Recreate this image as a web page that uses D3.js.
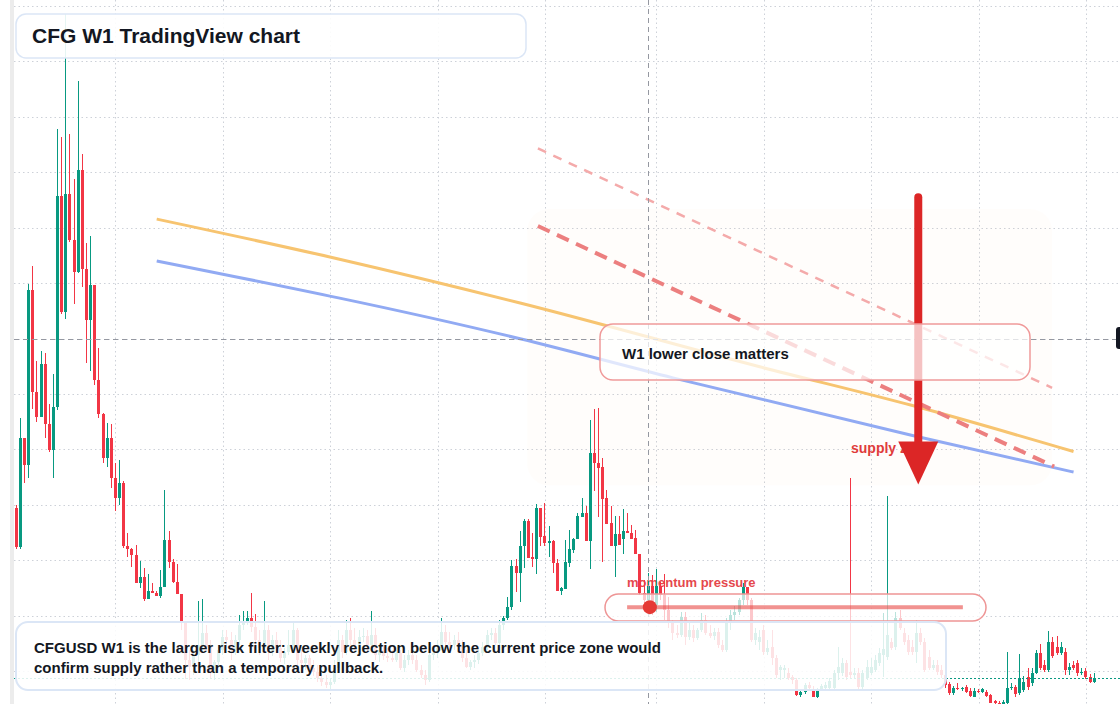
<!DOCTYPE html>
<html>
<head>
<meta charset="utf-8">
<script src="https://cdn.jsdelivr.net/npm/d3@7"></script>
<style>
html, body { margin: 0; padding: 0; background: #fff; }
svg { display: block; font-family: "Liberation Sans", Arial, sans-serif; }
</style>
</head>
<body>
<div id="chart"></div>
<script>
// weekly CFGUSD candles (oldest first)
const opens = [
  .790, .646, 1.042, .942, 1.575, 1.208, 1.118, 1.309, 1.093, .999,
  1.154, 1.914, 1.496, 1.921, 1.755, 1.640, 2.007, 1.651, 1.467, 1.593,
  1.251, 1.129, .967, 1.042, .898, .823, .880, .650, .639, .618,
  .517, .538, .459, .488, .481, .470, .502, .672, .592, .520,
  .477, .376, .240, .214, .258, .294, .337, .286, .193, .232,
  .276, .322, .312, .276, .312, .366, .380, .391, .358, .312,
  .283, .348, .268, .312, .283, .247, .268, .294, .348, .240,
  .229, .247, .211, .196, .175, .160, .150, .160, .211, .312,
  .268, .348, .312, .294, .322, .326, .294, .330, .258, .276,
  .254, .247, .240, .265, .211, .240, .258, .240, .204, .186,
  .168, .258, .265, .283, .340, .304, .294, .312, .290, .247,
  .214, .232, .240, .265, .286, .330, .337, .301, .366, .391,
  .430, .578, .553, .650, .740, .610, .603, .790, .686, .661,
  .668, .589, .488, .495, .589, .636, .675, .754, .769, .668,
  .985, .952, .938, .823, .733, .650, .693, .675, .704, .697,
  .679, .621, .481, .456, .506, .438, .506, .474, .420, .373,
  .337, .330, .394, .322, .348, .319, .348, .384, .337, .326,
  .340, .294, .276, .373, .402, .412, .456, .502, .456, .312,
  .304, .348, .268, .286, .247, .204, .204, .193, .178, .168,
  .114, .124, .150, .135, .106, .135, .139, .139, .139, .193,
  .193, .229, .196, .186, .193, .142, .175, .193, .204, .229,
  .258, .250, .304, .286, .391, .337, .312, .286, .268, .337,
  .304, .250, .211, .222, .204, .186, .153, .121, .139, .135,
  .142, .128, .106, .128, .124, .124, .114, .092, .085, .081,
  .085, .139, .142, .121, .132, .178, .157, .193, .265, .222,
  .204, .304, .286, .265, .268, .204, .222, .229, .193, .200,
  .178, .160
];
const highs = [
  .798, 1.114, 1.042, 1.597, 1.662, 1.320, 1.356, 1.348, 1.165, 1.273,
  2.155, 2.126, 2.572, 2.137, 1.975, 2.328, 2.065, 1.744, 1.770, 1.593,
  1.366, 1.132, 1.096, 1.093, .949, .963, .884, .697, .643, .654,
  .596, .571, .549, .517, .488, .564, .852, .704, .603, .585,
  .477, .376, .276, .276, .452, .459, .366, .312, .240, .294,
  .348, .348, .340, .330, .402, .416, .416, .481, .405, .348,
  .452, .366, .330, .340, .312, .283, .348, .376, .355, .276,
  .258, .258, .240, .222, .196, .186, .175, .240, .348, .330,
  .384, .391, .355, .348, .355, .348, .416, .355, .294, .294,
  .283, .276, .276, .276, .258, .276, .276, .258, .222, .204,
  .276, .276, .312, .391, .366, .340, .330, .340, .312, .276,
  .240, .258, .276, .304, .348, .355, .355, .384, .398, .466,
  .600, .603, .704, .747, .747, .697, .801, .790, .808, .722,
  .672, .603, .502, .672, .708, .679, .772, .823, .794, 1.107,
  1.147, 1.150, .970, .852, .794, .758, .758, .783, .769, .726,
  .708, .621, .528, .553, .546, .567, .520, .549, .466, .384,
  .366, .412, .412, .376, .366, .355, .409, .402, .366, .355,
  .355, .312, .391, .420, .434, .463, .517, .502, .463, .355,
  .348, .366, .312, .348, .258, .222, .222, .211, .186, .175,
  .132, .157, .160, .146, .139, .153, .160, .175, .204, .286,
  .247, .240, .898, .211, .211, .204, .240, .247, .258, .283,
  .409, .830, .319, .412, .420, .355, .330, .312, .384, .355,
  .319, .276, .240, .240, .222, .207, .160, .146, .157, .142,
  .150, .139, .139, .135, .139, .132, .117, .096, .092, .096,
  .268, .157, .150, .261, .182, .211, .211, .276, .297, .240,
  .344, .322, .326, .304, .283, .229, .236, .240, .211, .211,
  .189, .193
];
const lows = [
  .639, .639, .877, .895, 1.147, 1.100, 1.118, 1.042, .992, .898,
  1.143, 1.489, 1.471, 1.748, 1.525, 1.636, 1.586, 1.312, 1.284, 1.233,
  1.114, .952, .938, .859, .776, .798, .643, .610, .574, .517,
  .499, .452, .459, .481, .470, .463, .502, .571, .517, .477,
  .348, .171, .168, .186, .232, .268, .276, .175, .168, .211,
  .258, .294, .240, .258, .294, .348, .366, .340, .294, .258,
  .276, .240, .254, .268, .232, .225, .258, .276, .222, .211,
  .204, .189, .182, .160, .146, .139, .132, .153, .204, .247,
  .258, .294, .276, .276, .304, .268, .283, .240, .232, .240,
  .232, .232, .232, .204, .196, .222, .225, .196, .175, .150,
  .160, .240, .247, .276, .294, .276, .276, .276, .232, .211,
  .204, .211, .225, .254, .276, .312, .294, .294, .348, .384,
  .420, .484, .448, .571, .607, .574, .549, .650, .650, .610,
  .553, .488, .474, .495, .574, .625, .675, .754, .668, .567,
  .848, .754, .592, .729, .650, .538, .654, .621, .697, .675,
  .621, .474, .412, .438, .402, .412, .456, .384, .355, .312,
  .319, .322, .294, .312, .304, .312, .340, .330, .319, .312,
  .283, .268, .268, .348, .384, .402, .438, .438, .304, .294,
  .276, .258, .258, .222, .175, .168, .175, .168, .153, .110,
  .106, .117, .132, .106, .103, .132, .132, .132, .132, .168,
  .182, .168, .175, .175, .132, .132, .168, .186, .196, .218,
  .178, .240, .276, .276, .348, .294, .258, .258, .229, .294,
  .196, .204, .204, .186, .175, .139, .114, .114, .132, .128,
  .121, .106, .106, .121, .121, .106, .085, .081, .078, .078,
  .081, .132, .106, .114, .124, .132, .146, .189, .204, .196,
  .196, .247, .258, .258, .186, .186, .204, .182, .186, .171,
  .157, .157
];
const closes = [
  .646, 1.042, .942, 1.575, 1.208, 1.118, 1.309, 1.093, .999, 1.154,
  1.914, 1.496, 1.921, 1.755, 1.640, 2.007, 1.651, 1.467, 1.593, 1.251,
  1.129, .967, 1.042, .898, .823, .880, .650, .639, .618, .517,
  .538, .459, .488, .481, .470, .502, .672, .592, .520, .477,
  .376, .240, .214, .258, .294, .337, .286, .193, .232, .276,
  .322, .312, .276, .312, .366, .380, .391, .358, .312, .283,
  .348, .268, .312, .283, .247, .268, .294, .348, .240, .229,
  .247, .211, .196, .175, .160, .150, .160, .211, .312, .268,
  .348, .312, .294, .322, .326, .294, .330, .258, .276, .254,
  .247, .240, .265, .211, .240, .258, .240, .204, .186, .168,
  .258, .265, .283, .340, .304, .294, .312, .290, .247, .214,
  .232, .240, .265, .286, .330, .337, .301, .366, .391, .430,
  .578, .553, .650, .740, .607, .603, .790, .682, .661, .668,
  .589, .488, .499, .592, .639, .675, .758, .769, .668, .985,
  .949, .934, .819, .729, .650, .693, .654, .704, .697, .675,
  .621, .481, .456, .506, .438, .506, .474, .420, .373, .337,
  .330, .394, .322, .348, .319, .348, .384, .337, .326, .340,
  .294, .276, .373, .402, .412, .456, .502, .456, .312, .337,
  .322, .268, .283, .247, .186, .214, .211, .175, .168, .114,
  .124, .150, .139, .106, .135, .146, .150, .164, .193, .214,
  .229, .178, .186, .193, .142, .193, .214, .214, .240, .265,
  .279, .330, .283, .391, .355, .304, .268, .268, .337, .304,
  .204, .211, .222, .196, .186, .150, .121, .139, .135, .139,
  .124, .110, .128, .124, .135, .110, .085, .085, .081, .088,
  .139, .142, .117, .175, .160, .142, .193, .265, .211, .204,
  .304, .254, .265, .286, .204, .214, .211, .193, .196, .178,
  .160, .175
];

// price grid and half-year time grid (bar index)
const gridPrices = [0.2, 0.4, 0.6, 0.8, 1.0, 1.2, 1.4, 1.6, 1.8, 2.0, 2.2, 2.4, 2.6];
const gridBars = [24, 50, 76, 102, 128, 155, 181, 207, 233, 259];

// two smoothed averages, sampled at a few bars
const maBars = [34, 78, 122, 180, 217, 256];
const maFast = [1.831, 1.687, 1.528, 1.298, 1.158, 0.992];
const maSlowBars = [34, 122, 159, 217, 256];
const maSlow = [1.680, 1.399, 1.258, 1.050, 0.918];

// drawn annotations (bar index, price)
const zoneBars = [123.7, 250.8], zonePrices = [1.867, 0.870];
const trendUpperBars = [126.3, 250.8], trendUpper = [2.086, 1.222];
const trendLowerBars = [126.3, 251.3], trendLower = [1.806, 0.938];
const arrowBar = 218.4, arrowPrices = [1.91, 1.028, 0.873];
const pressureBars = [147.9, 229.2, 153.4], pressurePrice = 0.4304;
const crossBar = 153, crossPrice = 1.4;

const W = 1120, H = 704;
const teal = "#089981", red = "#f23645";

const svg = d3.select("#chart").append("svg")
    .attr("width", W).attr("height", H);
svg.append("rect").attr("width", W).attr("height", H).attr("fill", "#fff");

const x = d3.scaleLinear().domain([0, 261]).range([16.3, 1094.2]);
const y = d3.scaleLinear().domain([0.2, 2.6]).range([671, 6]);
const px = v => Math.round(v) + 0.5;

// left scale strip
svg.append("rect").attr("x", 10).attr("y", 0).attr("width", 4).attr("height", H).attr("fill", "#ececec");

// grid
svg.append("g").selectAll("line").data(gridPrices).enter().append("line")
    .attr("x1", 14).attr("x2", W)
    .attr("y1", d => px(y(d))).attr("y2", d => px(y(d)))
    .attr("stroke", "#cdd1d8").attr("stroke-dasharray", "1.5,3");
svg.append("g").selectAll("line").data(gridBars).enter().append("line")
    .attr("y1", 0).attr("y2", H)
    .attr("x1", d => px(x(d))).attr("x2", d => px(x(d)))
    .attr("stroke", "#cdd1d8").attr("stroke-dasharray", "1.5,3");

// supply zone shading
svg.append("rect")
    .attr("x", x(zoneBars[0])).attr("y", y(zonePrices[0]))
    .attr("width", x(zoneBars[1]) - x(zoneBars[0]))
    .attr("height", y(zonePrices[1]) - y(zonePrices[0]))
    .attr("rx", 22)
    .attr("fill", "rgba(240,190,140,0.03)");

// averages
const line = d3.line().curve(d3.curveMonotoneX);
svg.append("path")
    .attr("d", line(maBars.map((b, i) => [x(b), y(maFast[i])])))
    .attr("fill", "none").attr("stroke", "#f7c470").attr("stroke-width", 3);
svg.append("path")
    .attr("d", line(maSlowBars.map((b, i) => [x(b), y(maSlow[i])])))
    .attr("fill", "none").attr("stroke", "#91aaf3").attr("stroke-width", 3);

// trend lines
svg.append("line")
    .attr("x1", x(trendUpperBars[0])).attr("y1", y(trendUpper[0]))
    .attr("x2", x(trendUpperBars[1])).attr("y2", y(trendUpper[1]))
    .attr("stroke", "#f4aaaa").attr("stroke-width", 2.5).attr("stroke-dasharray", "9,8");
svg.append("line")
    .attr("x1", x(trendLowerBars[0])).attr("y1", y(trendLower[0]))
    .attr("x2", x(trendLowerBars[1])).attr("y2", y(trendLower[1]))
    .attr("stroke", "#ec7f7f").attr("stroke-width", 4).attr("stroke-dasharray", "13,8");

// label sits under the candles
svg.append("text").attr("x", 627).attr("y", 587)
    .attr("font-size", 13).attr("font-weight", "bold").attr("fill", "#e5484d")
    .text("momentum pressure");

// candles
const bars = d3.range(closes.length);
const cg = svg.append("g");
bars.forEach(i => {
  const o = opens[i], c = closes[i];
  const col = c >= o ? teal : red;
  const left = Math.round(x(i) - 1.5);
  const hi = Math.round(y(Math.max(highs[i], o, c)));
  const lo = Math.round(y(Math.min(lows[i], o, c)));
  cg.append("rect").attr("x", left + 1).attr("y", hi)
      .attr("width", 1).attr("height", Math.max(1, lo - hi)).attr("fill", col);
  const top = Math.round(y(Math.max(o, c)));
  const bot = Math.round(y(Math.min(o, c)));
  cg.append("rect").attr("x", left).attr("y", top)
      .attr("width", 3).attr("height", Math.max(1, bot - top)).attr("fill", col);
});

// last price line
svg.append("line")
    .attr("x1", 14).attr("x2", W)
    .attr("y1", px(y(closes[closes.length - 1]))).attr("y2", px(y(closes[closes.length - 1])))
    .attr("stroke", teal).attr("stroke-dasharray", "2,2");

// crosshair
svg.append("line")
    .attr("x1", px(x(crossBar))).attr("x2", px(x(crossBar))).attr("y1", 0).attr("y2", H)
    .attr("stroke", "#9598a1").attr("stroke-dasharray", "5,4");
svg.append("line")
    .attr("x1", 14).attr("x2", W).attr("y1", px(y(crossPrice))).attr("y2", px(y(crossPrice)))
    .attr("stroke", "#9598a1").attr("stroke-dasharray", "5,4");

// supply zone label + arrow
svg.append("text").attr("x", 851).attr("y", 453)
    .attr("font-size", 14).attr("font-weight", "bold").attr("fill", "#e03c3c")
    .text("supply zone");
const ax = x(arrowBar);
svg.append("line")
    .attr("x1", ax).attr("x2", ax)
    .attr("y1", y(arrowPrices[0])).attr("y2", y(arrowPrices[1]) + 4)
    .attr("stroke", "#dc2626").attr("stroke-width", 8).attr("stroke-linecap", "round");
svg.append("path")
    .attr("d", d3.line()([[ax - 20, y(arrowPrices[1])], [ax + 20, y(arrowPrices[1])], [ax, y(arrowPrices[2])]]) + "Z")
    .attr("fill", "#dc2626");

// W1 box
svg.append("rect").attr("x", 600).attr("y", 324).attr("width", 430).attr("height", 56).attr("rx", 13)
    .attr("fill", "rgba(255,255,255,0.72)").attr("stroke", "#f09a9a").attr("stroke-width", 1.5);
svg.append("text").attr("x", 622).attr("y", 359)
    .attr("font-size", 15).attr("font-weight", "bold").attr("fill", "#131722")
    .text("W1 lower close matters");

// momentum pill
svg.append("rect").attr("x", 605).attr("y", 594).attr("width", 381).attr("height", 27).attr("rx", 13.5)
    .attr("fill", "rgba(255,255,255,0.72)").attr("stroke", "#ee9595").attr("stroke-width", 1.5);
svg.append("line")
    .attr("x1", x(pressureBars[0])).attr("x2", x(pressureBars[1]))
    .attr("y1", y(pressurePrice)).attr("y2", y(pressurePrice))
    .attr("stroke", "rgba(229,57,53,0.55)").attr("stroke-width", 4);
svg.append("circle").attr("cx", x(pressureBars[2])).attr("cy", y(pressurePrice)).attr("r", 7)
    .attr("fill", "#e53935");

// title box
svg.append("rect").attr("x", 16).attr("y", 14).attr("width", 510).attr("height", 44).attr("rx", 10)
    .attr("fill", "rgba(255,255,255,0.9)").attr("stroke", "#dbe6f6").attr("stroke-width", 1.5);
svg.append("text").attr("x", 32).attr("y", 43)
    .attr("font-size", 21).attr("font-weight", "bold").attr("fill", "#131722")
    .text("CFG W1 TradingView chart");

// note box
svg.append("rect").attr("x", 16).attr("y", 622).attr("width", 930).attr("height", 68).attr("rx", 12)
    .attr("fill", "rgba(255,255,255,0.86)").attr("stroke", "#dbe6f6").attr("stroke-width", 2);
const note = svg.append("text").attr("font-size", 15).attr("font-weight", "bold").attr("fill", "#131722");
note.append("tspan").attr("x", 34).attr("y", 653)
    .text("CFGUSD W1 is the larger risk filter: weekly rejection below the current price zone would");
note.append("tspan").attr("x", 34).attr("y", 673)
    .text("confirm supply rather than a temporary pullback.");

// crosshair price tag, cut by the window edge
svg.append("rect").attr("x", 1116).attr("y", 327).attr("width", 20).attr("height", 22).attr("rx", 3)
    .attr("fill", "#131722");
</script>
</body>
</html>
